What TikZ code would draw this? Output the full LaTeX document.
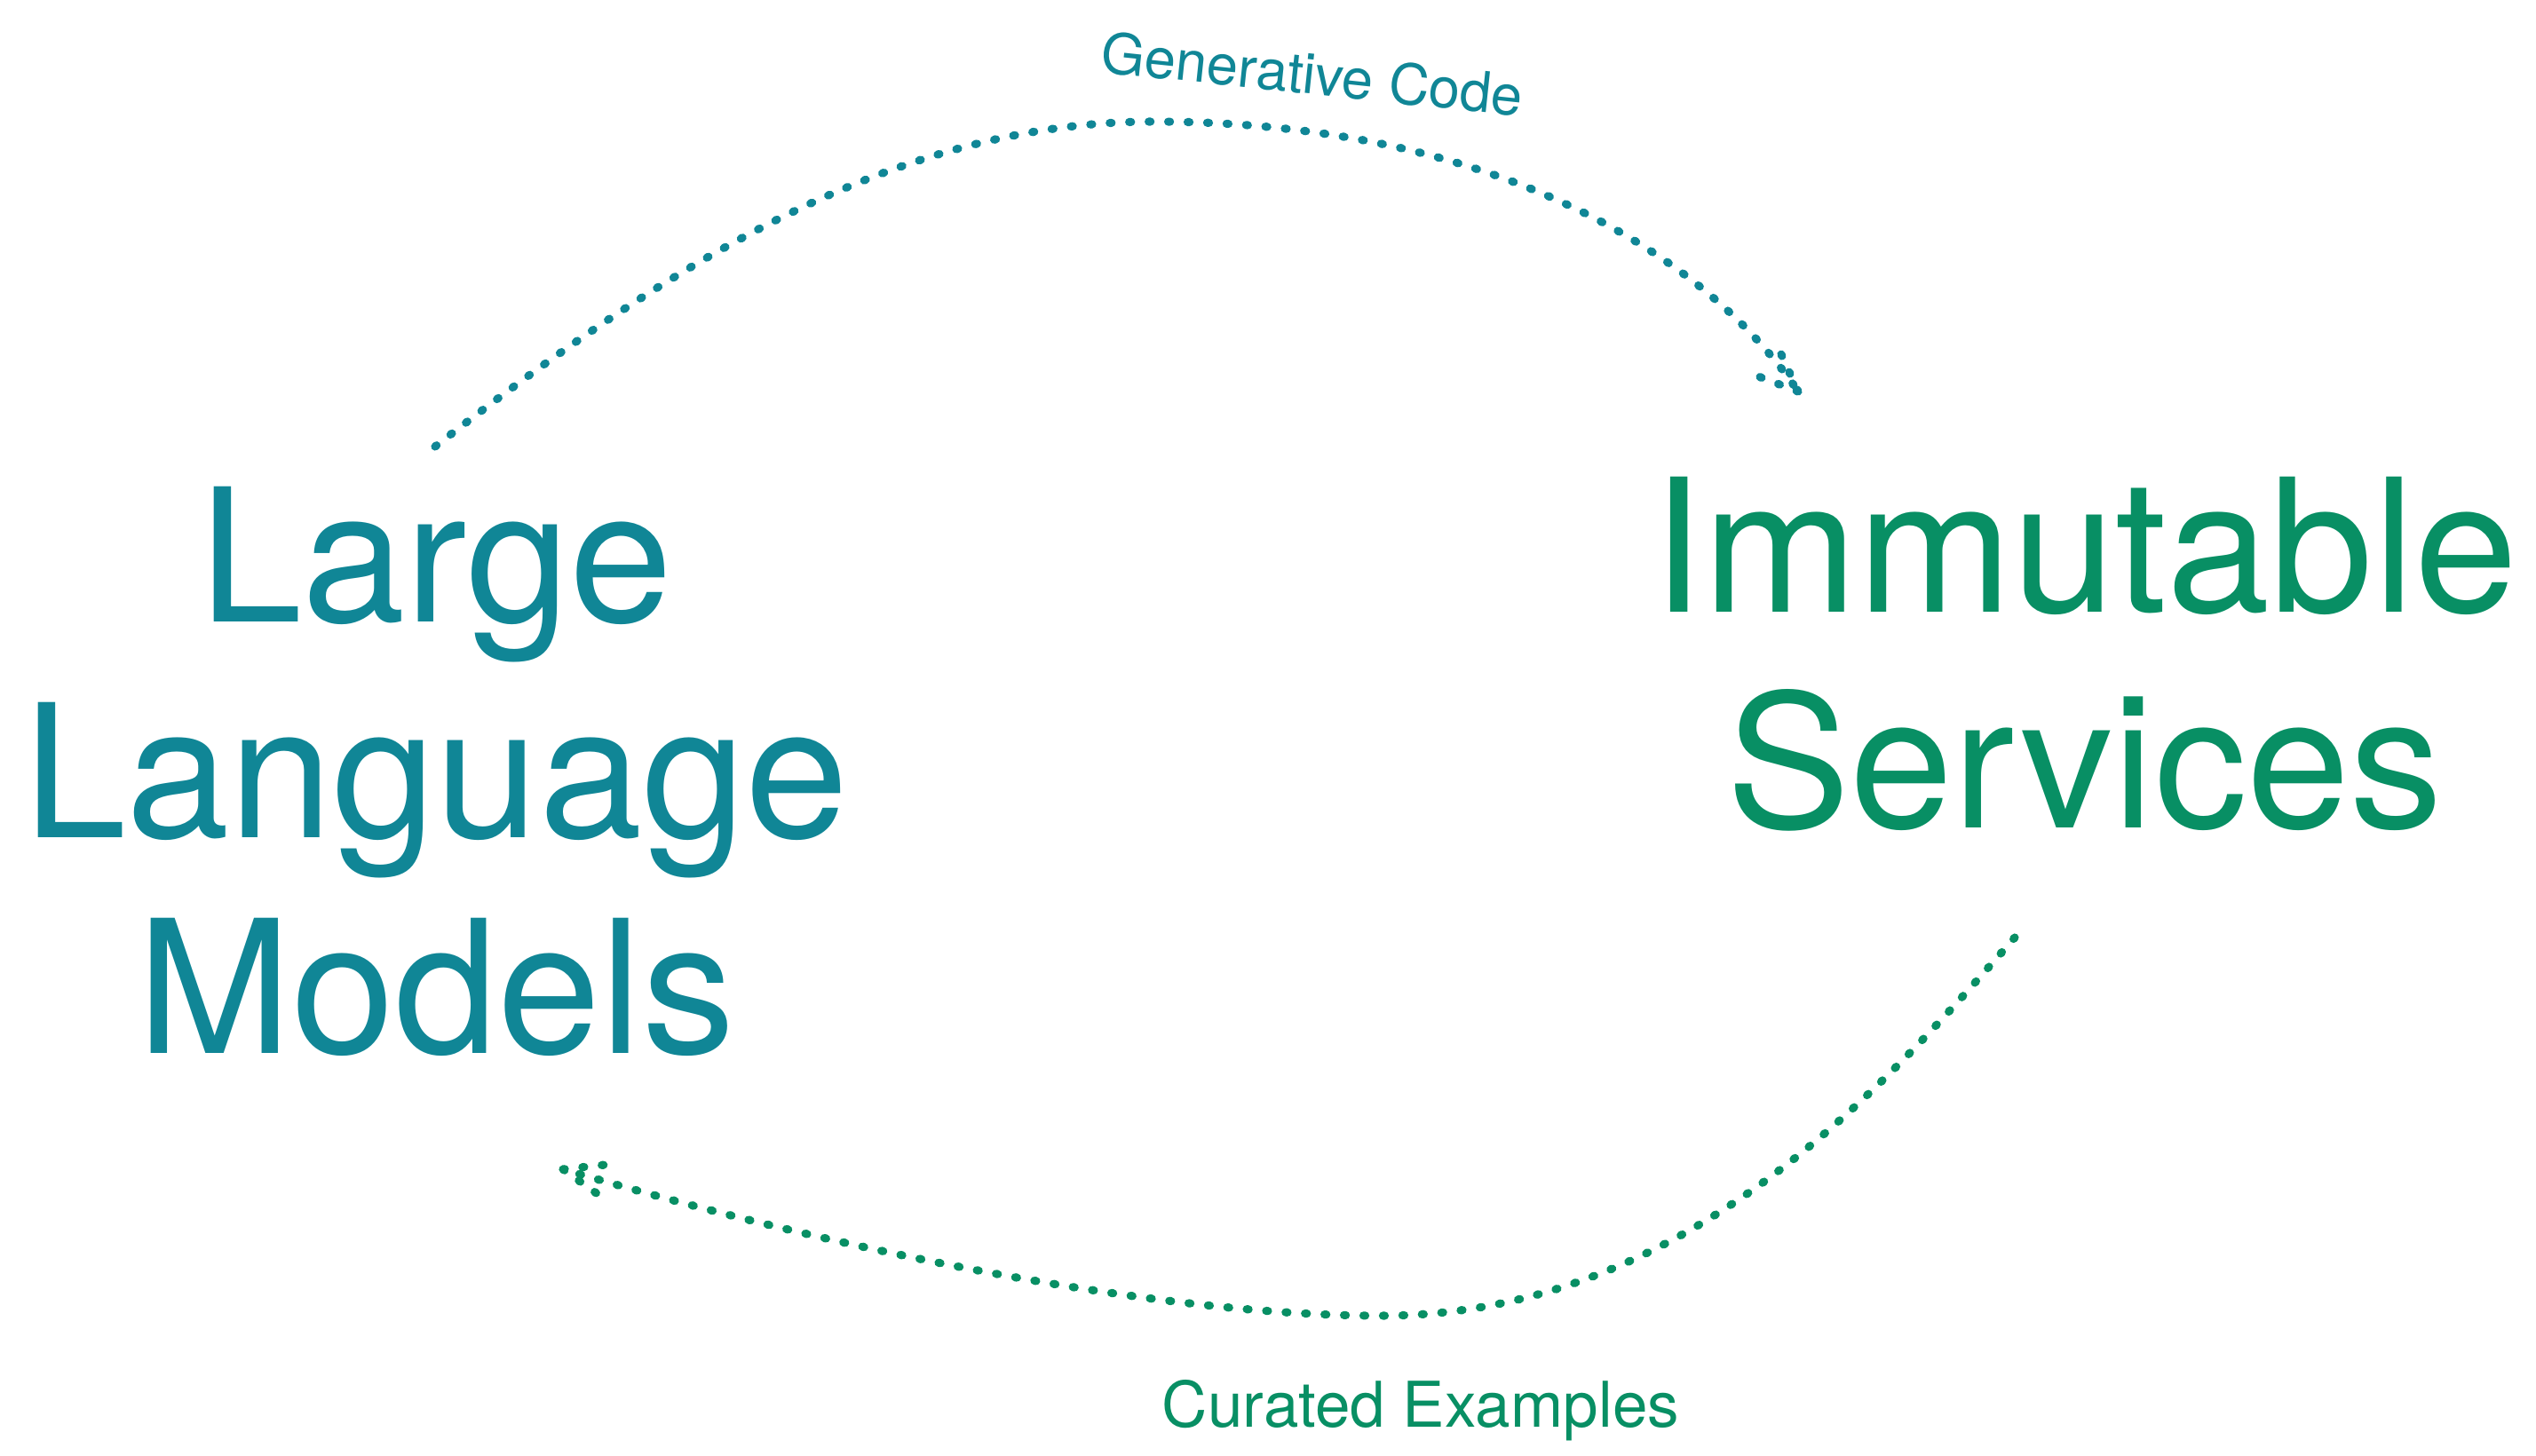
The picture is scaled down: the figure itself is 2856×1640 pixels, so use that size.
\documentclass[tikz,border=0pt]{standalone}
\usepackage{fontspec}
\setmainfont{TeX Gyre Heros}
\usepackage{tikz}
\usetikzlibrary{calc}
\definecolor{tealA}{RGB}{16,134,150}
\definecolor{greenA}{RGB}{8,143,100}

\begin{document}
\begin{tikzpicture}[x=0.01cm, y=-0.01cm,
  big/.style={align=center, anchor=base, font=\fontsize{59.4}{69.1}\selectfont},
  small/.style={font=\fontsize{18}{21}\selectfont},
  flow/.style={line width=2.6pt, line cap=round, dash pattern=on 0.6pt off 5.64pt}]
\useasboundingbox (0,0) rectangle (2856,1640);
\node[big, text=tealA] (LLM) at (491,1186) {Large\\Language\\Models};
\node[big, text=greenA] (IS) at (2348,933) {Immutable\\Services};
\node[small, text=tealA, rotate=-6] (L1) at (1478,83) {Generative Code};
\node[small, text=greenA, font=\fontsize{20.2}{24}\selectfont] (L2) at (1600,1589) {Curated Examples};
\coordinate (C1S) at (490,503);
\coordinate (C1T) at (1299,137);
\coordinate (C1E) at (2025,441);
\coordinate (C2S) at (2269,1056);
\coordinate (C2B) at (1555,1482);
\coordinate (C2E) at (634,1317);
\draw[flow, tealA] (C1S) .. controls (740,308) and (1000,137) .. (C1T)
  .. controls (1700,137) and (1930,300) .. (C1E);
\draw[flow, tealA] (C1E) -- ++(-25,-55) (C1E) -- ++(-58,-22);
\draw[flow, greenA] (C2S) .. controls (2125,1220) and (1900,1482) .. (C2B)
  .. controls (1300,1482) and (934,1406) .. (C2E);
\draw[flow, greenA] (C2E) -- ++(57,-6) (C2E) -- ++(46,33);
\end{tikzpicture}
\end{document}
